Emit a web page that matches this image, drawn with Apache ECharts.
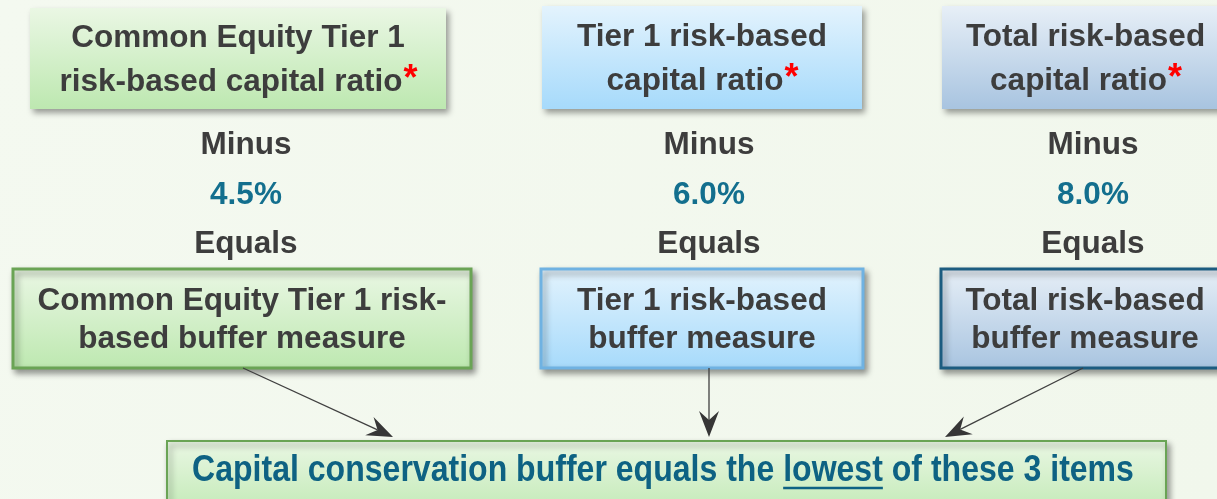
<!DOCTYPE html>
<html>
<head>
<meta charset="utf-8">
<script src="https://cdn.jsdelivr.net/npm/echarts@6/dist/echarts.min.js"></script>
<style>
  html, body { margin: 0; padding: 0; background: #f3f8ef; }
  #chart { width: 1217px; height: 499px; }
</style>
</head>
<body>
<div id="chart"></div>
<script>
  // diagram content
  const topLabels = [
    ['Common Equity Tier 1', 'risk-based capital ratio'],
    ['Tier 1 risk-based', 'capital ratio'],
    ['Total risk-based', 'capital ratio'],
  ];
  const minimums = ['4.5%', '6.0%', '8.0%'];
  const stepWords = ['Minus', 'Equals'];
  const bufferLabels = [
    ['Common Equity Tier 1 risk-', 'based buffer measure'],
    ['Tier 1 risk-based', 'buffer measure'],
    ['Total risk-based', 'buffer measure'],
  ];
  const conclusion = ['Capital conservation buffer equals the ', 'lowest', ' of these 3 items'];

  // layout
  const topBoxes = [
    { x: 30, y: 8, w: 416, h: 101 },
    { x: 542, y: 6, w: 320, h: 103 },
    { x: 942, y: 6, w: 287, h: 103 },
  ];
  const midBoxes = [
    { x: 13, y: 269, w: 458, h: 99 },
    { x: 541, y: 269, w: 322, h: 99 },
    { x: 941, y: 269, w: 288, h: 99 },
  ];
  const colCenters = [246, 709, 1093];
  const palettes = [
    { top: '#eaf7e4', bottom: '#bde8b0', border: '#6aa455' },
    { top: '#e3f3fd', bottom: '#a6dafb', border: '#6fb2e2' },
    { top: '#e7eff7', bottom: '#a8c4e0', border: '#1c5c80' },
  ];
  const arrows = [
    [[243, 368], [393, 437]],
    [[709, 368], [709, 437]],
    [[1083, 368], [945, 437]],
  ];

  const FONT = '"Liberation Sans", Arial, sans-serif';
  const textFont = 'bold 31.5px ' + FONT;
  const dark = '#3d3d3d';
  const teal = '#136f8e';

  const ctx = document.createElement('canvas').getContext('2d');
  const measure = (txt, font) => {
    ctx.font = font;
    return ctx.measureText(txt).width;
  };

  const grad = (p) =>
    new echarts.graphic.LinearGradient(0, 0, 0, 1, [
      { offset: 0, color: p.top },
      { offset: 1, color: p.bottom },
    ]);

  const shadow = {
    shadowBlur: 6,
    shadowOffsetX: 3,
    shadowOffsetY: 4,
    shadowColor: 'rgba(0,0,0,0.38)',
  };

  const elements = [];

  // top boxes (no border)
  topBoxes.forEach((b, i) => {
    elements.push({
      type: 'rect',
      shape: { x: b.x, y: b.y, width: b.w, height: b.h },
      style: Object.assign({ fill: grad(palettes[i]) }, shadow),
    });
    const cx = b.x + b.w / 2;
    const cy = b.y + b.h / 2 + 2;
    const [l1, l2] = topLabels[i];
    elements.push({
      type: 'text',
      style: { text: l1, x: cx, y: cy - 22, font: textFont, fill: dark, align: 'center', verticalAlign: 'middle' },
    });
    const starFont = 'bold 36px ' + FONT;
    const w2 = measure(l2, textFont);
    const wStar = measure('*', starFont);
    const x0 = cx - (w2 + wStar) / 2;
    elements.push({
      type: 'text',
      style: { text: l2, x: x0, y: cy + 22, font: textFont, fill: dark, align: 'left', verticalAlign: 'middle' },
    });
    elements.push({
      type: 'text',
      style: { text: '*', x: x0 + w2 + 1, y: cy + 20, font: starFont, fill: '#ff0000', align: 'left', verticalAlign: 'middle' },
    });
  });

  // minus / value / equals
  colCenters.forEach((cx, i) => {
    elements.push({
      type: 'text',
      style: { text: stepWords[0], x: cx, y: 145, font: textFont, fill: dark, align: 'center', verticalAlign: 'middle' },
    });
    elements.push({
      type: 'text',
      style: { text: minimums[i], x: cx, y: 195, font: textFont, fill: teal, align: 'center', verticalAlign: 'middle' },
    });
    elements.push({
      type: 'text',
      style: { text: stepWords[1], x: cx, y: 244, font: textFont, fill: dark, align: 'center', verticalAlign: 'middle' },
    });
  });

  // buffer measure boxes
  midBoxes.forEach((b, i) => {
    elements.push({
      type: 'rect',
      shape: { x: b.x, y: b.y, width: b.w, height: b.h },
      style: Object.assign({ fill: grad(palettes[i]), stroke: palettes[i].border, lineWidth: 3 }, shadow),
    });
    const cx = b.x + b.w / 2;
    bufferLabels[i].forEach((line, k) => {
      elements.push({
        type: 'text',
        style: { text: line, x: cx, y: b.y + b.h / 2 - 17 + k * 38, font: textFont, fill: dark, align: 'center', verticalAlign: 'middle' },
      });
    });
  });

  // arrows
  arrows.forEach(([s, e]) => {
    const dx = e[0] - s[0];
    const dy = e[1] - s[1];
    const len = Math.hypot(dx, dy);
    const ux = dx / len;
    const uy = dy / len;
    const px = -uy;
    const py = ux;
    const L = 26;
    const W = 10;
    const notch = 17;
    elements.push({
      type: 'line',
      shape: { x1: s[0], y1: s[1], x2: e[0] - ux * notch, y2: e[1] - uy * notch },
      style: { stroke: '#404040', lineWidth: 1.3 },
    });
    elements.push({
      type: 'polygon',
      shape: {
        points: [
          [e[0], e[1]],
          [e[0] - ux * L + px * W, e[1] - uy * L + py * W],
          [e[0] - ux * notch, e[1] - uy * notch],
          [e[0] - ux * L - px * W, e[1] - uy * L - py * W],
        ],
      },
      style: { fill: '#363636' },
    });
  });

  // bottom conclusion box
  const bb = { x: 167, y: 441, w: 999, h: 80 };
  elements.push({
    type: 'rect',
    shape: { x: bb.x, y: bb.y, width: bb.w, height: bb.h },
    style: Object.assign({ fill: grad(palettes[0]), stroke: palettes[0].border, lineWidth: 2 }, shadow),
  });
  // condensed look: taller font squeezed horizontally
  const narrowFont = 'bold 36px ' + FONT;
  const squeeze = 0.89;
  const parts = conclusion.map((t) => measure(t, narrowFont));
  const total = parts.reduce((a, b) => a + b, 0);
  const cxB = 663;
  const ty = 471;
  const group = { type: 'group', x: cxB, y: ty, scaleX: squeeze, children: [] };
  let tx = -total / 2;
  conclusion.forEach((t, i) => {
    group.children.push({
      type: 'text',
      style: { text: t, x: tx, y: 0, font: narrowFont, fill: '#0e6283', align: 'left', verticalAlign: 'middle' },
    });
    if (i === 1) {
      group.children.push({
        type: 'line',
        shape: { x1: tx, y1: 17, x2: tx + parts[i], y2: 17 },
        style: { stroke: '#0e6283', lineWidth: 2.5 },
      });
    }
    tx += parts[i];
  });
  elements.push(group);

  const chart = echarts.init(document.getElementById('chart'));
  chart.setOption({
    backgroundColor: new echarts.graphic.LinearGradient(0, 0, 1, 1, [
      { offset: 0, color: '#f4f9f0' },
      { offset: 1, color: '#f1f7ec' },
    ]),
    graphic: { elements },
  });
</script>
</body>
</html>
